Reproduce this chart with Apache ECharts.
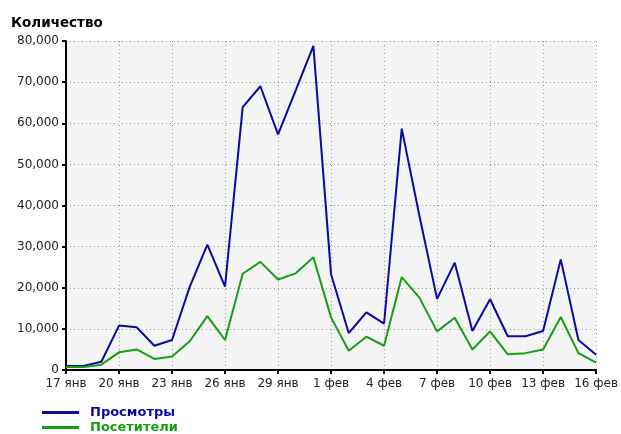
<!DOCTYPE html>
<html>
<head>
    <meta charset="utf-8">
    <title>Просмотры и посетители</title>
    <script src="https://cdn.jsdelivr.net/npm/echarts@6/dist/echarts.min.js"></script>
    <style>
        html,body{
            height:100%;
            width:100%;
            margin:0;
            padding:0;
            background:#fff;
        }
        #chart{
            width:621px;
            height:434px;
        }
    </style>
</head>
<body>
<div id="chart"></div>
<script>
    // даты
    var days = ['17 янв','18 янв','19 янв','20 янв','21 янв','22 янв','23 янв','24 янв','25 янв','26 янв',
        '27 янв','28 янв','29 янв','30 янв','31 янв','1 фев','2 фев','3 фев','4 фев','5 фев',
        '6 фев','7 фев','8 фев','9 фев','10 фев','11 фев','12 фев','13 фев','14 фев','15 фев','16 фев'];
    // просмотры
    var views = [1000, 1000, 2000, 10800, 10400, 5900, 7300, 20200, 30500, 20300,
        63900, 69000, 57300, 68000, 78800, 23300, 9000, 14000, 11300, 58700,
        37500, 17300, 26100, 9500, 17200, 8200, 8200, 9500, 26900, 7300, 3700];
    // посетители
    var visitors = [700, 700, 1300, 4300, 5000, 2700, 3300, 7000, 13100, 7300,
        23400, 26300, 22000, 23500, 27400, 12800, 4700, 8100, 5900, 22600,
        17600, 9400, 12700, 5000, 9400, 3800, 4100, 5000, 12900, 4100, 1800];

    var blue = '#0a0a9e';
    var green = '#12a012';
    var font = 'DejaVu Sans';

    // общий стиль легенды
    function legendItem(name, color, top){
        return {
            left:42,
            top:top,
            padding:0,
            itemWidth:37,
            itemHeight:3,
            icon:'rect',
            textStyle:{
                fontFamily:font,
                fontSize:13,
                fontWeight:'bold',
                color:color,
                padding:[0,0,0,6]
            },
            data:[name]
        };
    }

    var myChart = echarts.init(document.getElementById('chart'));
    var option = {
        animation:false,
        title:{
            text:'Количество',
            left:6,
            top:11,
            textStyle:{
                fontFamily:font,
                fontSize:13.5,
                fontWeight:'bold',
                color:'#000'
            }
        },
        grid:{
            left:66,
            right:24,
            top:41,
            bottom:64,
            show:true,
            backgroundColor:'#f4f4f4',
            borderWidth:0
        },
        xAxis:{
            type:'category',
            data:days,
            boundaryGap:false,
            axisLine:{lineStyle:{color:'#000', width:2}},
            axisTick:{show:true, interval:2, length:4, lineStyle:{color:'#000', width:2}},
            axisLabel:{
                interval:2,
                margin:8,
                fontFamily:font,
                fontSize:12,
                color:'#222'
            },
            splitLine:{
                show:true,
                interval:2,
                lineStyle:{color:'#999', type:[1,3], width:1}
            }
        },
        yAxis:{
            type:'value',
            min:0,
            max:80000,
            interval:10000,
            axisLine:{show:true, lineStyle:{color:'#000', width:2}},
            axisTick:{show:true, length:4, lineStyle:{color:'#000', width:2}},
            axisLabel:{
                margin:7,
                fontFamily:font,
                fontSize:12,
                color:'#222',
                formatter:function(v){
                    return v.toString().replace(/\B(?=(\d{3})+(?!\d))/g, ',');
                }
            },
            splitLine:{
                show:true,
                lineStyle:{color:'#999', type:[1,3], width:1}
            }
        },
        legend:[
            legendItem('Просмотры', blue, 406),
            legendItem('Посетители', green, 421)
        ],
        series:[
            {
                name:'Просмотры',
                type:'line',
                data:views,
                showSymbol:false,
                color:blue,
                lineStyle:{color:blue, width:2}
            },
            {
                name:'Посетители',
                type:'line',
                data:visitors,
                showSymbol:false,
                color:green,
                lineStyle:{color:green, width:2}
            }
        ]
    };
    myChart.setOption(option);
</script>
</body>
</html>
